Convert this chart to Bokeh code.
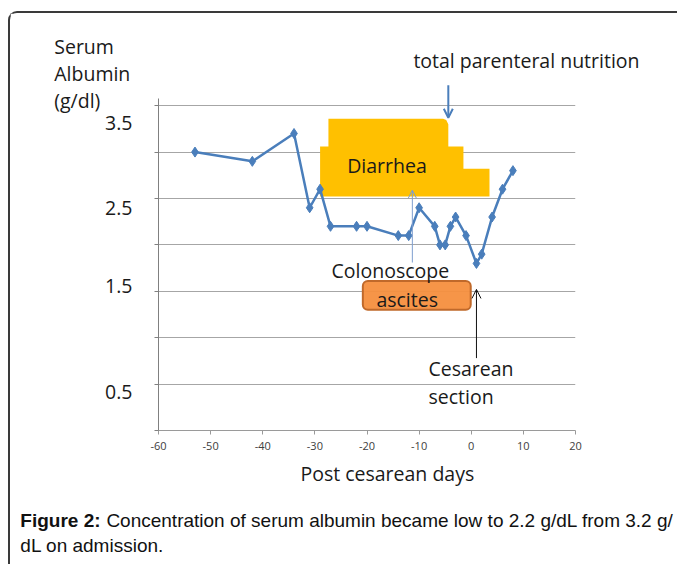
from bokeh.plotting import figure
from bokeh.models import Arrow, OpenHead, BoxAnnotation, FixedTicker, Range1d
from bokeh.core.properties import value
from bokeh.embed import file_html
from bokeh.resources import INLINE

# ---- data ----
days = [-53, -42, -34, -31, -29, -27, -22, -20, -14, -12, -10, -7, -6, -5, -4, -3, -1, 1, 2, 4, 6, 8]
albumin = [3.0, 2.9, 3.2, 2.4, 2.6, 2.2, 2.2, 2.2, 2.1, 2.1, 2.4, 2.2, 2.0, 2.0, 2.2, 2.3, 2.1, 1.8, 1.9, 2.3, 2.6, 2.8]
x_ticks = [-60, -50, -40, -30, -20, -10, 0, 10, 20]
y_grid = [0.5, 1.0, 1.5, 2.0, 2.5, 3.0, 3.5]
y_tick_labels = ["3.5", "2.5", "1.5", "0.5"]
y_tick_label_pos = [3.31, 2.40, 1.56, 0.42]

# annotation shapes (data units)
diarrhea_x = [-27.4, -5.4, -4.8, -4.4, -4.4, -1.5, -1.5, 3.5, 3.5, -29.0, -29.0, -27.4]
diarrhea_y = [3.36, 3.36, 3.345, 3.30, 3.06, 3.06, 2.82, 2.82, 2.52, 2.52, 3.06, 3.06]
ascites_box = dict(left=-20.8, right=-0.1, top=1.61, bottom=1.30)

FONT = "Open Sans"
FS = "19.5px"
TXT = "#1a1a1a"

p = figure(width=669, height=553, x_range=Range1d(-60, 20), y_range=Range1d(0, 4.116),
           output_backend="svg", toolbar_location=None,
           min_border_left=148, min_border_right=104, min_border_top=35, min_border_bottom=136)
p.styles = {"margin-top": "11px", "margin-left": "8px", "border-top": "2px solid #3a3a3a",
            "border-left": "2px solid #3a3a3a", "border-top-left-radius": "9px"}
p.outline_line_color = None
p.background_fill_color = "white"
p.border_fill_color = "white"

p.xgrid.visible = False
p.ygrid.ticker = FixedTicker(ticks=y_grid)
p.ygrid.grid_line_color = "#a6a6a6"
p.ygrid.grid_line_width = 1

yax = p.yaxis[0]
yax.ticker = FixedTicker(ticks=[0.0] + y_grid)
yax.bounds = (0, 3.58)
yax.major_label_text_font_size = "0px"
yax.major_tick_out = 4
yax.major_tick_in = 0
yax.minor_tick_line_color = None
yax.axis_line_color = "#808080"
yax.major_tick_line_color = "#808080"

xax = p.xaxis[0]
xax.ticker = FixedTicker(ticks=x_ticks)
xax.major_label_overrides = {t: str(t) for t in x_ticks}
xax.major_label_text_font = FONT
xax.major_label_text_font_size = "11px"
xax.major_label_text_color = "#404040"
xax.major_label_standoff = 7
xax.major_tick_out = 4
xax.major_tick_in = 0
xax.minor_tick_line_color = None
xax.axis_line_color = "#9a9a9a"
xax.major_tick_line_color = "#9a9a9a"

# Diarrhea shape
p.patch(diarrhea_x, diarrhea_y, fill_color="#FFC000", line_color=None)

# series
p.line(days, albumin, line_color="#4A7EBB", line_width=2.5)
p.scatter(days, albumin, marker="diamond", size=10, fill_color="#4A7EBB", line_color="#4A7EBB")

# ascites box
p.add_layout(BoxAnnotation(fill_color="#F58F3E", fill_alpha=0.95, line_color="#C0692A",
                           line_alpha=1.0, line_width=2, border_radius=5, **ascites_box))

# arrows
p.add_layout(Arrow(end=OpenHead(size=9, line_color="#4A7EBB", line_width=2),
                   x_start=-4.4, y_start=3.72, x_end=-4.4, y_end=3.37,
                   line_color="#4A7EBB", line_width=2))
p.add_layout(Arrow(end=OpenHead(size=8, line_color="#7F9FCF", line_width=1),
                   x_start=-11.3, y_start=1.81, x_end=-11.3, y_end=2.59,
                   line_color="#7F9FCF", line_width=1))
p.add_layout(Arrow(end=OpenHead(size=9, line_color="#111111", line_width=1),
                   x_start=1.0, y_start=0.78, x_end=1.0, y_end=1.52,
                   line_color="#111111", line_width=1))

def txt(xs, ys, ts, align="left", font=FONT, size=FS, style="normal", color=TXT, level="overlay"):
    p.text(x=xs, y=ys, text=ts, text_align=align, text_baseline="middle",
           text_font=value(font), text_font_size=size, text_font_style=style,
           text_color=color, level=level)

# y-axis title and tick labels
txt([-80.0, -80.0, -80.0], [4.14, 3.85, 3.56], ["Serum", "Albumin", "(g/dl)"])
txt([-65.0] * len(y_tick_labels), y_tick_label_pos, y_tick_labels, align="right")

# x-axis title
txt([-16.1], [-0.463], ["Post cesarean days"], align="center")

# annotation texts
txt([-11.1], [3.99], ["total parenteral nutrition"])
txt([-23.8], [2.86], ["Diarrhea"])
txt([-26.8], [1.72], ["Colonoscope"])
txt([-18.2], [1.41], ["ascites"])
txt([-8.2, -8.2], [0.67, 0.37], ["Cesarean", "section"])

# caption
CAP = "Liberation Sans"
txt([-86.5], [-0.97], ["Figure 2:"], font=CAP, size="19px", style="bold", color="#111111")
txt([-70.0], [-0.97], ["Concentration of serum albumin became low to 2.2 g/dL from 3.2 g/"],
    font=CAP, size="19px", color="#111111")
txt([-86.5], [-1.24], ["dL on admission."], font=CAP, size="19px", color="#111111")

open("out.html", "w").write(file_html(p, INLINE))
